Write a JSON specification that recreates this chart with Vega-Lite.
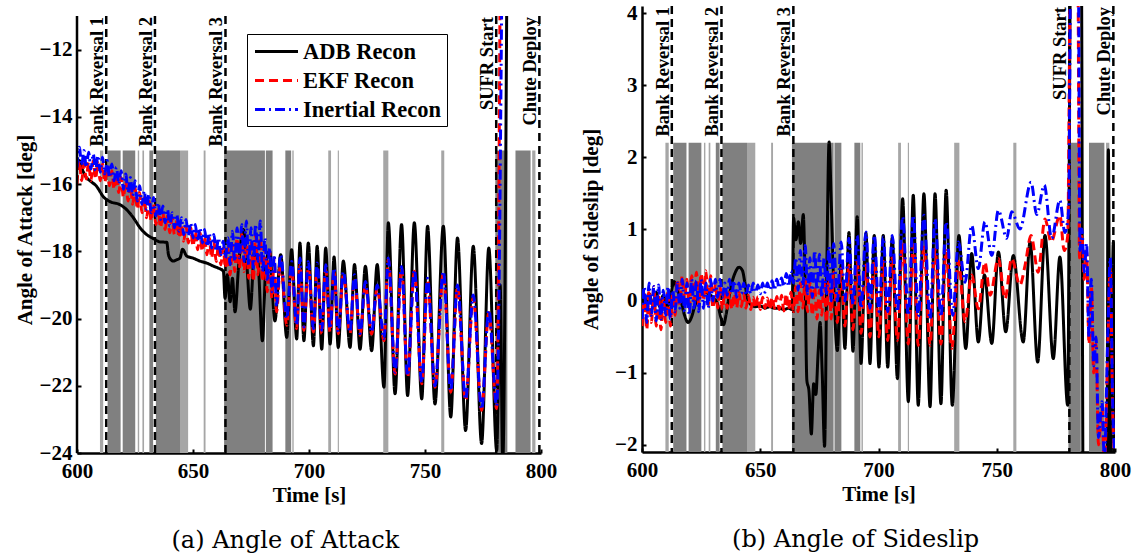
{
"$schema": "https://vega.github.io/schema/vega-lite/v6.json",
"background": "white",
"padding": {"left": 14, "top": 2, "right": 4, "bottom": 4},
"spacing": 23,
"config": {
 "view": {"stroke": null},
 "axis": {"domainColor": "black", "domainWidth": 2.5, "tickColor": "black", "tickWidth": 2, "tickSize": -4, "grid": false, "labelFont": "Liberation Serif", "labelFontWeight": "bold", "labelFontSize": 21, "labelColor": "black", "titleFont": "Liberation Serif", "titleFontWeight": "bold", "titleFontSize": 21, "titleColor": "black"},
 "axisX": {"labelPadding": 11, "titlePadding": 3, "labelFlush": false},
 "axisY": {"labelPadding": 9, "titlePadding": 4},
 "legend": {"orient": "none", "legendX": 170, "legendY": 28, "strokeColor": "black", "fillColor": "white", "padding": 5, "title": null, "labelFont": "Liberation Serif", "labelFontWeight": "bold", "labelFontSize": 22.5, "labelColor": "black", "labelOffset": 14, "symbolType": "M-2,0H2", "symbolSize": 462, "symbolOffset": 12, "symbolStrokeWidth": 3, "rowPadding": 5, "labelLimit": 300}
},
"datasets": {
 "bandsD": [{"s":613.2,"e":618.8},{"s":619.7,"e":625.1},{"s":631.2,"e":632.8},{"s":634.0,"e":644.4},{"s":663.4,"e":681.0},{"s":681.4,"e":684.3},{"s":689.8,"e":692.3},{"s":780.3,"e":785.5},{"s":789.0,"e":795.5}],
 "bandsL": [{"s":609.9,"e":611.3},{"s":626.2,"e":626.8},{"s":628.2,"e":628.9},{"s":644.4,"e":647.9},{"s":654.6,"e":655.4},{"s":692.8,"e":693.4},{"s":708.3,"e":709.5},{"s":712.4,"e":712.9},{"s":732.0,"e":734.2},{"s":757.0,"e":758.3},{"s":796.2,"e":797.6}],
 "events": [{"t":612.6,"n":"Bank Reversal 1"},{"t":633.6,"n":"Bank Reversal 2"},{"t":664.0,"n":"Bank Reversal 3"},{"t":780.7,"n":"SUFR Start"},{"t":799.3,"n":"Chute Deploy"}],
 "aoa": [
{"t":600,"v":-15.45,"s":"A"},{"t":601,"v":-15.3,"s":"A"},{"t":602.5,"v":-15.6,"s":"A"},{"t":604,"v":-15.8,"s":"A"},{"t":605.6,"v":-15.9,"s":"A"},{"t":608.5,"v":-16.07,"s":"A"},{"t":611.3,"v":-16.37,"s":"A"},{"t":614.2,"v":-16.52,"s":"A"},{"t":618.5,"v":-16.61,"s":"A"},{"t":621.4,"v":-16.76,"s":"A"},{"t":624.3,"v":-17.0,"s":"A"},{"t":627.2,"v":-17.3,"s":"A"},{"t":630,"v":-17.5,"s":"A"},{"t":632.9,"v":-17.62,"s":"A"},{"t":635.8,"v":-17.72,"s":"A"},{"t":638.7,"v":-17.73,"s":"A"},{"t":639.4,"v":-18.09,"s":"A"},{"t":640.5,"v":-18.25,"s":"A"},{"t":641.5,"v":-18.29,"s":"A"},{"t":643,"v":-18.25,"s":"A"},{"t":644.4,"v":-18.2,"s":"A"},{"t":645.5,"v":-17.94,"s":"A"},{"t":647.3,"v":-18.14,"s":"A"},{"t":650,"v":-18.2,"s":"A"},{"t":653,"v":-18.29,"s":"A"},{"t":656,"v":-18.35,"s":"A"},{"t":658.8,"v":-18.44,"s":"A"},{"t":661,"v":-18.5,"s":"A"},{"t":663.1,"v":-18.59,"s":"A"},{"t":663.8,"v":-19.4,"s":"A"},{"t":664.8,"v":-18.7,"s":"A"},{"t":666,"v":-19.5,"s":"A"},{"t":667,"v":-18.8,"s":"A"},{"t":668.1,"v":-19.8,"s":"A"},{"t":669.8,"v":-18.3,"s":"A"},{"t":671.7,"v":-17.35,"s":"A"},{"t":673.2,"v":-18.4,"s":"A"},{"t":674.7,"v":-19.72,"s":"A"},{"t":676.5,"v":-18.0,"s":"A"},{"t":678,"v":-18.3,"s":"A"},{"t":679.9,"v":-20.66,"s":"A"},{"t":681.5,"v":-18.3,"s":"A"},{"t":683,"v":-18.0,"s":"A"},{"t":685.3,"v":-20.07,"s":"A"},{"t":687.8,"v":-18.1,"s":"A"},{"t":690.4,"v":-20.56,"s":"A"},{"t":692.5,"v":-17.95,"s":"A"},{"t":694.7,"v":-20.61,"s":"A"},{"t":696.1,"v":-17.75,"s":"A"},{"t":697.8,"v":-20.66,"s":"A"},{"t":699.7,"v":-17.75,"s":"A"},{"t":701.9,"v":-20.81,"s":"A"},{"t":703.5,"v":-17.85,"s":"A"},{"t":705.5,"v":-20.91,"s":"A"},{"t":707.2,"v":-17.9,"s":"A"},{"t":709.1,"v":-20.76,"s":"A"},{"t":710.8,"v":-18.17,"s":"A"},{"t":712.6,"v":-20.86,"s":"A"},{"t":714.8,"v":-18.29,"s":"A"},{"t":717.7,"v":-20.86,"s":"A"},{"t":719.6,"v":-18.39,"s":"A"},{"t":722,"v":-20.91,"s":"A"},{"t":724.3,"v":-18.44,"s":"A"},{"t":727,"v":-20.96,"s":"A"},{"t":729.4,"v":-18.39,"s":"A"},{"t":732.3,"v":-22.04,"s":"A"},{"t":734.2,"v":-17.15,"s":"A"},{"t":737.1,"v":-22.24,"s":"A"},{"t":739.9,"v":-17.2,"s":"A"},{"t":742.5,"v":-22.29,"s":"A"},{"t":745.4,"v":-17.15,"s":"A"},{"t":748.6,"v":-22.39,"s":"A"},{"t":751.1,"v":-17.25,"s":"A"},{"t":754.3,"v":-22.54,"s":"A"},{"t":757.9,"v":-17.25,"s":"A"},{"t":761.1,"v":-22.93,"s":"A"},{"t":764,"v":-17.6,"s":"A"},{"t":767.5,"v":-23.33,"s":"A"},{"t":770.8,"v":-17.85,"s":"A"},{"t":774.4,"v":-23.72,"s":"A"},{"t":777.5,"v":-17.9,"s":"A"},{"t":780.9,"v":-23.92,"s":"A"},{"t":782.4,"v":-19.0,"s":"A"},{"t":783.5,"v":-24.3,"s":"A"},{"t":785.2,"v":-11.0,"s":"A"},
{"t":600,"v":-16.0,"s":"E"},{"t":601,"v":-15.3,"s":"E"},{"t":602,"v":-15.9,"s":"E"},{"t":603,"v":-15.4,"s":"E"},{"t":604,"v":-15.85,"s":"E"},{"t":605,"v":-15.35,"s":"E"},{"t":606,"v":-15.9,"s":"E"},{"t":607,"v":-15.3,"s":"E"},{"t":608,"v":-15.85,"s":"E"},{"t":609,"v":-15.35,"s":"E"},{"t":610,"v":-15.9,"s":"E"},{"t":611,"v":-15.4,"s":"E"},{"t":612,"v":-15.95,"s":"E"},{"t":613,"v":-15.5,"s":"E"},{"t":614,"v":-16.05,"s":"E"},{"t":615,"v":-15.6,"s":"E"},{"t":616,"v":-16.15,"s":"E"},{"t":617,"v":-15.7,"s":"E"},{"t":618,"v":-16.25,"s":"E"},{"t":619,"v":-15.8,"s":"E"},{"t":620,"v":-16.4,"s":"E"},{"t":621,"v":-15.9,"s":"E"},{"t":622,"v":-16.5,"s":"E"},{"t":623,"v":-16.0,"s":"E"},{"t":624,"v":-16.6,"s":"E"},{"t":625,"v":-16.1,"s":"E"},{"t":626,"v":-16.75,"s":"E"},{"t":627,"v":-16.25,"s":"E"},{"t":628,"v":-16.85,"s":"E"},{"t":629,"v":-16.4,"s":"E"},{"t":630,"v":-17.0,"s":"E"},{"t":631,"v":-16.5,"s":"E"},{"t":632,"v":-17.1,"s":"E"},{"t":633,"v":-16.6,"s":"E"},{"t":634,"v":-17.2,"s":"E"},{"t":635,"v":-16.75,"s":"E"},{"t":636,"v":-17.3,"s":"E"},{"t":637,"v":-16.85,"s":"E"},{"t":638,"v":-17.35,"s":"E"},{"t":639,"v":-16.95,"s":"E"},{"t":640,"v":-17.45,"s":"E"},{"t":641,"v":-17.0,"s":"E"},{"t":642,"v":-17.5,"s":"E"},{"t":643,"v":-17.1,"s":"E"},{"t":644,"v":-17.6,"s":"E"},{"t":645,"v":-17.2,"s":"E"},{"t":646,"v":-17.7,"s":"E"},{"t":647,"v":-17.25,"s":"E"},{"t":648,"v":-17.75,"s":"E"},{"t":649,"v":-17.3,"s":"E"},{"t":650,"v":-17.85,"s":"E"},{"t":651,"v":-17.4,"s":"E"},{"t":652,"v":-17.95,"s":"E"},{"t":653,"v":-17.45,"s":"E"},{"t":654,"v":-18.0,"s":"E"},{"t":655,"v":-17.55,"s":"E"},{"t":656,"v":-18.1,"s":"E"},{"t":657,"v":-17.6,"s":"E"},{"t":658,"v":-18.2,"s":"E"},{"t":659,"v":-17.7,"s":"E"},{"t":660,"v":-18.3,"s":"E"},{"t":661,"v":-17.8,"s":"E"},{"t":662,"v":-18.4,"s":"E"},{"t":663,"v":-17.9,"s":"E"},{"t":664,"v":-18.5,"s":"E"},{"t":665,"v":-17.9,"s":"E"},{"t":666,"v":-18.7,"s":"E"},{"t":667,"v":-17.8,"s":"E"},{"t":668,"v":-18.6,"s":"E"},{"t":669,"v":-17.6,"s":"E"},{"t":670,"v":-18.5,"s":"E"},{"t":671,"v":-17.5,"s":"E"},{"t":672,"v":-18.6,"s":"E"},{"t":673,"v":-17.6,"s":"E"},{"t":674,"v":-18.8,"s":"E"},{"t":675,"v":-17.7,"s":"E"},{"t":676,"v":-18.9,"s":"E"},{"t":677,"v":-17.5,"s":"E"},{"t":678,"v":-18.7,"s":"E"},{"t":679,"v":-17.6,"s":"E"},{"t":680,"v":-18.9,"s":"E"},{"t":681,"v":-17.9,"s":"E"},{"t":682,"v":-19.2,"s":"E"},{"t":683,"v":-18.0,"s":"E"},{"t":684,"v":-19.4,"s":"E"},{"t":685,"v":-18.2,"s":"E"},{"t":686,"v":-19.8,"s":"E"},{"t":687.8,"v":-18.3,"s":"E"},{"t":690.4,"v":-20.2,"s":"E"},{"t":692.5,"v":-18.5,"s":"E"},{"t":694.7,"v":-20.3,"s":"E"},{"t":696.1,"v":-18.4,"s":"E"},{"t":697.8,"v":-20.35,"s":"E"},{"t":699.7,"v":-18.5,"s":"E"},{"t":701.9,"v":-20.4,"s":"E"},{"t":703.5,"v":-18.5,"s":"E"},{"t":705.5,"v":-20.45,"s":"E"},{"t":707.2,"v":-18.55,"s":"E"},{"t":709.1,"v":-20.4,"s":"E"},{"t":710.8,"v":-18.6,"s":"E"},{"t":712.6,"v":-20.45,"s":"E"},{"t":714.8,"v":-18.7,"s":"E"},{"t":717.7,"v":-20.45,"s":"E"},{"t":719.6,"v":-18.8,"s":"E"},{"t":722,"v":-20.5,"s":"E"},{"t":724.3,"v":-19.0,"s":"E"},{"t":727,"v":-20.46,"s":"E"},{"t":729.4,"v":-19.08,"s":"E"},{"t":732.3,"v":-20.66,"s":"E"},{"t":734.2,"v":-18.24,"s":"E"},{"t":737.1,"v":-21.65,"s":"E"},{"t":739.9,"v":-18.49,"s":"E"},{"t":742.5,"v":-21.75,"s":"E"},{"t":745.4,"v":-18.59,"s":"E"},{"t":748.6,"v":-21.94,"s":"E"},{"t":751.1,"v":-18.88,"s":"E"},{"t":754.3,"v":-22.04,"s":"E"},{"t":757.9,"v":-18.64,"s":"E"},{"t":761.1,"v":-22.19,"s":"E"},{"t":764,"v":-19.08,"s":"E"},{"t":767.5,"v":-22.44,"s":"E"},{"t":770.8,"v":-19.38,"s":"E"},{"t":774.4,"v":-22.73,"s":"E"},{"t":777.5,"v":-19.82,"s":"E"},{"t":780.9,"v":-22.68,"s":"E"},{"t":782.3,"v":-11.0,"s":"E"},
{"t":600,"v":-15.5,"s":"I"},{"t":601,"v":-14.9,"s":"I"},{"t":602,"v":-15.45,"s":"I"},{"t":603,"v":-15.0,"s":"I"},{"t":604,"v":-15.5,"s":"I"},{"t":605,"v":-15.05,"s":"I"},{"t":606,"v":-15.55,"s":"I"},{"t":607,"v":-15.1,"s":"I"},{"t":608,"v":-15.6,"s":"I"},{"t":609,"v":-15.15,"s":"I"},{"t":610,"v":-15.65,"s":"I"},{"t":611,"v":-15.2,"s":"I"},{"t":612,"v":-15.7,"s":"I"},{"t":613,"v":-15.3,"s":"I"},{"t":614,"v":-15.8,"s":"I"},{"t":615,"v":-15.4,"s":"I"},{"t":616,"v":-15.9,"s":"I"},{"t":617,"v":-15.5,"s":"I"},{"t":618,"v":-16.0,"s":"I"},{"t":619,"v":-15.6,"s":"I"},{"t":620,"v":-16.15,"s":"I"},{"t":621,"v":-15.7,"s":"I"},{"t":622,"v":-16.25,"s":"I"},{"t":623,"v":-15.8,"s":"I"},{"t":624,"v":-16.35,"s":"I"},{"t":625,"v":-15.9,"s":"I"},{"t":626,"v":-16.5,"s":"I"},{"t":627,"v":-16.05,"s":"I"},{"t":628,"v":-16.6,"s":"I"},{"t":629,"v":-16.2,"s":"I"},{"t":630,"v":-16.75,"s":"I"},{"t":631,"v":-16.3,"s":"I"},{"t":632,"v":-16.85,"s":"I"},{"t":633,"v":-16.4,"s":"I"},{"t":634,"v":-16.95,"s":"I"},{"t":635,"v":-16.55,"s":"I"},{"t":636,"v":-17.05,"s":"I"},{"t":637,"v":-16.65,"s":"I"},{"t":638,"v":-17.15,"s":"I"},{"t":639,"v":-16.75,"s":"I"},{"t":640,"v":-17.25,"s":"I"},{"t":641,"v":-16.85,"s":"I"},{"t":642,"v":-17.3,"s":"I"},{"t":643,"v":-16.9,"s":"I"},{"t":644,"v":-17.4,"s":"I"},{"t":645,"v":-17.0,"s":"I"},{"t":646,"v":-17.5,"s":"I"},{"t":647,"v":-17.05,"s":"I"},{"t":648,"v":-17.55,"s":"I"},{"t":649,"v":-17.15,"s":"I"},{"t":650,"v":-17.6,"s":"I"},{"t":651,"v":-17.2,"s":"I"},{"t":652,"v":-17.7,"s":"I"},{"t":653,"v":-17.3,"s":"I"},{"t":654,"v":-17.75,"s":"I"},{"t":655,"v":-17.35,"s":"I"},{"t":656,"v":-17.85,"s":"I"},{"t":657,"v":-17.45,"s":"I"},{"t":658,"v":-17.9,"s":"I"},{"t":659,"v":-17.5,"s":"I"},{"t":660,"v":-18.0,"s":"I"},{"t":661,"v":-17.6,"s":"I"},{"t":662,"v":-18.1,"s":"I"},{"t":663,"v":-17.7,"s":"I"},{"t":664,"v":-18.2,"s":"I"},{"t":665,"v":-17.6,"s":"I"},{"t":666,"v":-18.4,"s":"I"},{"t":667,"v":-17.4,"s":"I"},{"t":668,"v":-18.3,"s":"I"},{"t":669,"v":-17.3,"s":"I"},{"t":670,"v":-18.2,"s":"I"},{"t":671,"v":-17.2,"s":"I"},{"t":672,"v":-18.3,"s":"I"},{"t":673,"v":-17.1,"s":"I"},{"t":674,"v":-18.4,"s":"I"},{"t":675,"v":-17.3,"s":"I"},{"t":676,"v":-18.5,"s":"I"},{"t":677,"v":-17.2,"s":"I"},{"t":678,"v":-18.3,"s":"I"},{"t":679,"v":-17.1,"s":"I"},{"t":680,"v":-18.6,"s":"I"},{"t":681,"v":-17.6,"s":"I"},{"t":682,"v":-18.9,"s":"I"},{"t":683,"v":-17.9,"s":"I"},{"t":684,"v":-19.2,"s":"I"},{"t":685,"v":-18.1,"s":"I"},{"t":686,"v":-19.6,"s":"I"},{"t":687.8,"v":-18.1,"s":"I"},{"t":690.4,"v":-20.0,"s":"I"},{"t":692.5,"v":-18.3,"s":"I"},{"t":694.7,"v":-20.2,"s":"I"},{"t":696.1,"v":-18.2,"s":"I"},{"t":697.8,"v":-20.25,"s":"I"},{"t":699.7,"v":-18.3,"s":"I"},{"t":701.9,"v":-20.3,"s":"I"},{"t":703.5,"v":-18.35,"s":"I"},{"t":705.5,"v":-20.35,"s":"I"},{"t":707.2,"v":-18.4,"s":"I"},{"t":709.1,"v":-20.3,"s":"I"},{"t":710.8,"v":-18.5,"s":"I"},{"t":712.6,"v":-20.4,"s":"I"},{"t":714.8,"v":-18.6,"s":"I"},{"t":717.7,"v":-20.4,"s":"I"},{"t":719.6,"v":-18.7,"s":"I"},{"t":722,"v":-20.45,"s":"I"},{"t":724.3,"v":-18.9,"s":"I"},{"t":727,"v":-20.4,"s":"I"},{"t":729.4,"v":-19.0,"s":"I"},{"t":732.3,"v":-20.6,"s":"I"},{"t":734.2,"v":-18.2,"s":"I"},{"t":737.1,"v":-21.6,"s":"I"},{"t":739.9,"v":-18.45,"s":"I"},{"t":742.5,"v":-21.7,"s":"I"},{"t":745.4,"v":-18.55,"s":"I"},{"t":748.6,"v":-21.9,"s":"I"},{"t":751.1,"v":-18.8,"s":"I"},{"t":754.3,"v":-22.0,"s":"I"},{"t":757.9,"v":-18.6,"s":"I"},{"t":761.1,"v":-22.15,"s":"I"},{"t":764,"v":-19.0,"s":"I"},{"t":767.5,"v":-22.4,"s":"I"},{"t":770.8,"v":-19.3,"s":"I"},{"t":774.4,"v":-22.7,"s":"I"},{"t":777.5,"v":-19.75,"s":"I"},{"t":780.9,"v":-22.6,"s":"I"},{"t":783,"v":-11.0,"s":"I"}
 ],
 "beta": [
{"t":600,"v":0.05,"s":"A"},{"t":601.5,"v":-0.1,"s":"A"},{"t":603,"v":0.1,"s":"A"},{"t":604.5,"v":-0.05,"s":"A"},{"t":606,"v":0.12,"s":"A"},{"t":607.5,"v":-0.08,"s":"A"},{"t":609,"v":0.08,"s":"A"},{"t":610.5,"v":-0.1,"s":"A"},{"t":612,"v":0.05,"s":"A"},{"t":613.5,"v":0.27,"s":"A"},{"t":615,"v":0.15,"s":"A"},{"t":616.5,"v":0.0,"s":"A"},{"t":618,"v":-0.2,"s":"A"},{"t":619.5,"v":-0.3,"s":"A"},{"t":621,"v":-0.22,"s":"A"},{"t":622.5,"v":-0.05,"s":"A"},{"t":624,"v":0.05,"s":"A"},{"t":626,"v":0.12,"s":"A"},{"t":628,"v":0.1,"s":"A"},{"t":630,"v":0.05,"s":"A"},{"t":632,"v":-0.05,"s":"A"},{"t":633.5,"v":-0.25,"s":"A"},{"t":634.5,"v":-0.33,"s":"A"},{"t":635.5,"v":-0.2,"s":"A"},{"t":636.5,"v":0.0,"s":"A"},{"t":638,"v":0.25,"s":"A"},{"t":639.5,"v":0.4,"s":"A"},{"t":641,"v":0.47,"s":"A"},{"t":642.5,"v":0.42,"s":"A"},{"t":643.5,"v":0.25,"s":"A"},{"t":644.5,"v":0.05,"s":"A"},{"t":646,"v":-0.05,"s":"A"},{"t":648,"v":-0.08,"s":"A"},{"t":650,"v":-0.07,"s":"A"},{"t":652,"v":-0.1,"s":"A"},{"t":654,"v":-0.08,"s":"A"},{"t":656,"v":-0.1,"s":"A"},{"t":658,"v":-0.1,"s":"A"},{"t":660,"v":-0.12,"s":"A"},{"t":662,"v":-0.1,"s":"A"},{"t":663.5,"v":-0.12,"s":"A"},{"t":664.1,"v":1.15,"s":"A"},{"t":665.1,"v":0.85,"s":"A"},{"t":666.1,"v":1.1,"s":"A"},{"t":667.1,"v":0.8,"s":"A"},{"t":668.2,"v":1.2,"s":"A"},{"t":669,"v":0.2,"s":"A"},{"t":669.7,"v":-1.1,"s":"A"},{"t":670.6,"v":-1.25,"s":"A"},{"t":671.6,"v":-1.85,"s":"A"},{"t":672.6,"v":-1.15,"s":"A"},{"t":673.5,"v":-1.3,"s":"A"},{"t":674.5,"v":-0.7,"s":"A"},{"t":675.3,"v":-0.3,"s":"A"},{"t":676.2,"v":-1.0,"s":"A"},{"t":677.2,"v":-2.02,"s":"A"},{"t":678.2,"v":0.6,"s":"A"},{"t":679.1,"v":2.21,"s":"A"},{"t":680,"v":1.4,"s":"A"},{"t":681,"v":0.3,"s":"A"},{"t":682.6,"v":-0.69,"s":"A"},{"t":684.2,"v":0.5,"s":"A"},{"t":685.8,"v":-0.66,"s":"A"},{"t":687.5,"v":0.95,"s":"A"},{"t":689.2,"v":-0.7,"s":"A"},{"t":691.0,"v":1.17,"s":"A"},{"t":692.6,"v":-0.87,"s":"A"},{"t":694.7,"v":0.94,"s":"A"},{"t":696.4,"v":-0.87,"s":"A"},{"t":698.2,"v":0.91,"s":"A"},{"t":700.2,"v":-0.92,"s":"A"},{"t":702,"v":0.91,"s":"A"},{"t":703.9,"v":-0.92,"s":"A"},{"t":705.8,"v":0.88,"s":"A"},{"t":708,"v":-1.08,"s":"A"},{"t":710.2,"v":1.42,"s":"A"},{"t":712.6,"v":-1.4,"s":"A"},{"t":714.7,"v":1.47,"s":"A"},{"t":716.8,"v":-1.45,"s":"A"},{"t":719.2,"v":1.49,"s":"A"},{"t":721.8,"v":-1.47,"s":"A"},{"t":723.9,"v":1.49,"s":"A"},{"t":726.4,"v":-1.43,"s":"A"},{"t":728.6,"v":1.54,"s":"A"},{"t":731.2,"v":-1.45,"s":"A"},{"t":734.0,"v":0.91,"s":"A"},{"t":736.9,"v":-0.66,"s":"A"},{"t":739.4,"v":0.66,"s":"A"},{"t":742.2,"v":-0.57,"s":"A"},{"t":744.8,"v":0.36,"s":"A"},{"t":747.9,"v":-0.59,"s":"A"},{"t":750.7,"v":0.68,"s":"A"},{"t":753.8,"v":-0.43,"s":"A"},{"t":757,"v":0.63,"s":"A"},{"t":761.2,"v":-0.57,"s":"A"},{"t":764.1,"v":0.82,"s":"A"},{"t":767.3,"v":-0.85,"s":"A"},{"t":770.4,"v":0.91,"s":"A"},{"t":773.9,"v":-0.8,"s":"A"},{"t":776.7,"v":0.61,"s":"A"},{"t":780,"v":-1.45,"s":"A"},{"t":781.2,"v":4.5,"s":"A"},{"t":785.8,"v":4.5,"s":"A"},{"t":786.5,"v":-2.5,"s":"A"},{"t":796.5,"v":-2.5,"s":"A"},{"t":797.2,"v":2.1,"s":"A"},{"t":798,"v":-2.5,"s":"A"},{"t":799.3,"v":0.82,"s":"A"},{"t":800,"v":-2.3,"s":"A"},
{"t":600,"v":-0.35,"s":"E"},{"t":601,"v":0.1,"s":"E"},{"t":602,"v":-0.4,"s":"E"},{"t":603,"v":0.15,"s":"E"},{"t":604,"v":-0.3,"s":"E"},{"t":605,"v":0.2,"s":"E"},{"t":606,"v":-0.35,"s":"E"},{"t":607,"v":0.1,"s":"E"},{"t":608,"v":-0.4,"s":"E"},{"t":609,"v":0.05,"s":"E"},{"t":610,"v":-0.3,"s":"E"},{"t":611,"v":0.15,"s":"E"},{"t":612,"v":-0.35,"s":"E"},{"t":613,"v":0.1,"s":"E"},{"t":614,"v":-0.2,"s":"E"},{"t":615,"v":0.3,"s":"E"},{"t":616,"v":-0.05,"s":"E"},{"t":617,"v":0.35,"s":"E"},{"t":618,"v":0.0,"s":"E"},{"t":619,"v":0.3,"s":"E"},{"t":620,"v":-0.1,"s":"E"},{"t":621,"v":0.35,"s":"E"},{"t":622,"v":0.0,"s":"E"},{"t":623,"v":0.4,"s":"E"},{"t":624,"v":-0.05,"s":"E"},{"t":625,"v":0.38,"s":"E"},{"t":626,"v":0.0,"s":"E"},{"t":627,"v":0.42,"s":"E"},{"t":628,"v":-0.05,"s":"E"},{"t":629,"v":0.35,"s":"E"},{"t":630,"v":-0.1,"s":"E"},{"t":631,"v":0.25,"s":"E"},{"t":632,"v":-0.1,"s":"E"},{"t":633,"v":0.2,"s":"E"},{"t":634,"v":-0.12,"s":"E"},{"t":635,"v":0.15,"s":"E"},{"t":636,"v":-0.1,"s":"E"},{"t":637,"v":0.12,"s":"E"},{"t":638,"v":-0.12,"s":"E"},{"t":639,"v":0.1,"s":"E"},{"t":640,"v":-0.1,"s":"E"},{"t":641,"v":0.12,"s":"E"},{"t":642,"v":-0.08,"s":"E"},{"t":643,"v":0.1,"s":"E"},{"t":644,"v":-0.1,"s":"E"},{"t":645,"v":0.08,"s":"E"},{"t":646,"v":-0.12,"s":"E"},{"t":647,"v":0.05,"s":"E"},{"t":648,"v":-0.1,"s":"E"},{"t":649,"v":0.06,"s":"E"},{"t":650,"v":-0.12,"s":"E"},{"t":651,"v":0.05,"s":"E"},{"t":652,"v":-0.1,"s":"E"},{"t":653,"v":0.04,"s":"E"},{"t":654,"v":-0.12,"s":"E"},{"t":655,"v":0.05,"s":"E"},{"t":656,"v":-0.1,"s":"E"},{"t":657,"v":0.06,"s":"E"},{"t":658,"v":-0.12,"s":"E"},{"t":659,"v":0.08,"s":"E"},{"t":660,"v":-0.14,"s":"E"},{"t":661,"v":0.1,"s":"E"},{"t":662,"v":-0.12,"s":"E"},{"t":663,"v":0.12,"s":"E"},{"t":664,"v":-0.15,"s":"E"},{"t":665,"v":0.2,"s":"E"},{"t":666,"v":-0.15,"s":"E"},{"t":667,"v":0.25,"s":"E"},{"t":668,"v":-0.1,"s":"E"},{"t":669,"v":0.3,"s":"E"},{"t":670,"v":-0.15,"s":"E"},{"t":671,"v":0.25,"s":"E"},{"t":672,"v":-0.2,"s":"E"},{"t":673,"v":0.2,"s":"E"},{"t":674,"v":-0.25,"s":"E"},{"t":675,"v":0.15,"s":"E"},{"t":676,"v":-0.2,"s":"E"},{"t":677,"v":0.3,"s":"E"},{"t":678,"v":-0.3,"s":"E"},{"t":679,"v":0.35,"s":"E"},{"t":680,"v":-0.25,"s":"E"},{"t":681,"v":0.4,"s":"E"},{"t":682.6,"v":-0.3,"s":"E"},{"t":684.2,"v":0.45,"s":"E"},{"t":685.8,"v":-0.35,"s":"E"},{"t":687.5,"v":0.5,"s":"E"},{"t":689.2,"v":-0.4,"s":"E"},{"t":691.0,"v":0.55,"s":"E"},{"t":692.6,"v":-0.45,"s":"E"},{"t":694.7,"v":0.5,"s":"E"},{"t":696.4,"v":-0.5,"s":"E"},{"t":698.2,"v":0.55,"s":"E"},{"t":700.2,"v":-0.5,"s":"E"},{"t":702,"v":0.55,"s":"E"},{"t":703.9,"v":-0.55,"s":"E"},{"t":705.8,"v":0.6,"s":"E"},{"t":708,"v":-0.55,"s":"E"},{"t":710.2,"v":0.8,"s":"E"},{"t":712.6,"v":-0.6,"s":"E"},{"t":714.7,"v":0.78,"s":"E"},{"t":716.8,"v":-0.62,"s":"E"},{"t":719.2,"v":0.75,"s":"E"},{"t":721.8,"v":-0.62,"s":"E"},{"t":723.9,"v":0.72,"s":"E"},{"t":726.4,"v":-0.6,"s":"E"},{"t":728.6,"v":0.7,"s":"E"},{"t":731.0,"v":-0.66,"s":"E"},{"t":733.8,"v":0.55,"s":"E"},{"t":736.6,"v":-0.29,"s":"E"},{"t":739.4,"v":0.36,"s":"E"},{"t":742.2,"v":-0.11,"s":"E"},{"t":745,"v":0.54,"s":"E"},{"t":747.2,"v":0.08,"s":"E"},{"t":750.7,"v":0.59,"s":"E"},{"t":753.5,"v":0.03,"s":"E"},{"t":756.3,"v":0.59,"s":"E"},{"t":759.8,"v":0.22,"s":"E"},{"t":762,"v":0.5,"s":"E"},{"t":764.5,"v":0.91,"s":"E"},{"t":767.5,"v":0.4,"s":"E"},{"t":770.4,"v":1.14,"s":"E"},{"t":773,"v":0.82,"s":"E"},{"t":776.7,"v":1.19,"s":"E"},{"t":778.5,"v":0.7,"s":"E"},{"t":780,"v":0.9,"s":"E"},{"t":781.2,"v":4.5,"s":"E"},{"t":784.3,"v":4.5,"s":"E"},{"t":785,"v":0.6,"s":"E"},{"t":786,"v":0.9,"s":"E"},{"t":787,"v":0.3,"s":"E"},{"t":788,"v":0.7,"s":"E"},{"t":789,"v":-0.6,"s":"E"},{"t":790,"v":0.2,"s":"E"},{"t":791,"v":-1.0,"s":"E"},{"t":792,"v":-0.6,"s":"E"},{"t":793,"v":-2.0,"s":"E"},{"t":794.5,"v":-1.5,"s":"E"},{"t":795.5,"v":-2.3,"s":"E"},{"t":797,"v":-0.6,"s":"E"},{"t":798,"v":0.5,"s":"E"},{"t":799,"v":-1.5,"s":"E"},{"t":800,"v":-2.3,"s":"E"},
{"t":600,"v":-0.25,"s":"I"},{"t":601,"v":0.2,"s":"I"},{"t":602,"v":-0.3,"s":"I"},{"t":603,"v":0.25,"s":"I"},{"t":604,"v":-0.2,"s":"I"},{"t":605,"v":0.2,"s":"I"},{"t":606,"v":-0.28,"s":"I"},{"t":607,"v":0.22,"s":"I"},{"t":608,"v":-0.25,"s":"I"},{"t":609,"v":0.15,"s":"I"},{"t":610,"v":-0.2,"s":"I"},{"t":611,"v":0.2,"s":"I"},{"t":612,"v":-0.25,"s":"I"},{"t":613,"v":0.15,"s":"I"},{"t":614,"v":-0.15,"s":"I"},{"t":615,"v":0.25,"s":"I"},{"t":616,"v":-0.1,"s":"I"},{"t":617,"v":0.3,"s":"I"},{"t":618,"v":-0.15,"s":"I"},{"t":619,"v":0.25,"s":"I"},{"t":620,"v":-0.2,"s":"I"},{"t":621,"v":0.3,"s":"I"},{"t":622,"v":-0.1,"s":"I"},{"t":623,"v":0.28,"s":"I"},{"t":624,"v":-0.15,"s":"I"},{"t":625,"v":0.3,"s":"I"},{"t":626,"v":-0.1,"s":"I"},{"t":627,"v":0.25,"s":"I"},{"t":628,"v":-0.1,"s":"I"},{"t":629,"v":0.3,"s":"I"},{"t":630,"v":0.0,"s":"I"},{"t":631,"v":0.3,"s":"I"},{"t":632,"v":0.05,"s":"I"},{"t":633,"v":0.3,"s":"I"},{"t":634,"v":0.05,"s":"I"},{"t":635,"v":0.25,"s":"I"},{"t":636,"v":0.08,"s":"I"},{"t":637,"v":0.3,"s":"I"},{"t":638,"v":0.1,"s":"I"},{"t":639,"v":0.28,"s":"I"},{"t":640,"v":0.05,"s":"I"},{"t":641,"v":0.25,"s":"I"},{"t":642,"v":0.1,"s":"I"},{"t":643,"v":0.25,"s":"I"},{"t":644,"v":0.08,"s":"I"},{"t":645,"v":0.22,"s":"I"},{"t":646,"v":0.1,"s":"I"},{"t":647,"v":0.25,"s":"I"},{"t":648,"v":0.12,"s":"I"},{"t":649,"v":0.22,"s":"I"},{"t":650,"v":0.1,"s":"I"},{"t":651,"v":0.25,"s":"I"},{"t":652,"v":0.12,"s":"I"},{"t":653,"v":0.25,"s":"I"},{"t":654,"v":0.15,"s":"I"},{"t":655,"v":0.28,"s":"I"},{"t":656,"v":0.15,"s":"I"},{"t":657,"v":0.3,"s":"I"},{"t":658,"v":0.18,"s":"I"},{"t":659,"v":0.32,"s":"I"},{"t":660,"v":0.2,"s":"I"},{"t":661,"v":0.38,"s":"I"},{"t":662,"v":0.2,"s":"I"},{"t":663,"v":0.42,"s":"I"},{"t":664,"v":0.25,"s":"I"},{"t":665,"v":0.6,"s":"I"},{"t":666,"v":0.15,"s":"I"},{"t":667,"v":0.7,"s":"I"},{"t":668,"v":0.2,"s":"I"},{"t":669,"v":0.77,"s":"I"},{"t":670,"v":0.1,"s":"I"},{"t":671,"v":0.6,"s":"I"},{"t":672,"v":0.05,"s":"I"},{"t":673,"v":0.7,"s":"I"},{"t":674,"v":0.15,"s":"I"},{"t":675,"v":0.65,"s":"I"},{"t":676,"v":0.05,"s":"I"},{"t":677,"v":0.6,"s":"I"},{"t":678,"v":0.1,"s":"I"},{"t":679,"v":0.75,"s":"I"},{"t":680,"v":0.0,"s":"I"},{"t":681,"v":0.8,"s":"I"},{"t":682.6,"v":0.0,"s":"I"},{"t":684.2,"v":0.82,"s":"I"},{"t":685.8,"v":0.0,"s":"I"},{"t":687.5,"v":0.87,"s":"I"},{"t":689.2,"v":-0.05,"s":"I"},{"t":691.0,"v":0.91,"s":"I"},{"t":692.6,"v":-0.1,"s":"I"},{"t":694.7,"v":0.96,"s":"I"},{"t":696.4,"v":-0.1,"s":"I"},{"t":698.2,"v":0.91,"s":"I"},{"t":700.2,"v":-0.15,"s":"I"},{"t":702,"v":0.89,"s":"I"},{"t":703.9,"v":-0.15,"s":"I"},{"t":705.8,"v":0.91,"s":"I"},{"t":708,"v":-0.15,"s":"I"},{"t":710.2,"v":1.17,"s":"I"},{"t":712.6,"v":-0.2,"s":"I"},{"t":714.7,"v":1.19,"s":"I"},{"t":716.8,"v":-0.22,"s":"I"},{"t":719.2,"v":1.19,"s":"I"},{"t":721.8,"v":-0.25,"s":"I"},{"t":723.9,"v":1.14,"s":"I"},{"t":726.4,"v":-0.22,"s":"I"},{"t":728.6,"v":1.1,"s":"I"},{"t":731.4,"v":-0.2,"s":"I"},{"t":733.8,"v":0.82,"s":"I"},{"t":736.6,"v":0.26,"s":"I"},{"t":739.4,"v":1.05,"s":"I"},{"t":742.2,"v":0.45,"s":"I"},{"t":745,"v":1.1,"s":"I"},{"t":747.9,"v":0.63,"s":"I"},{"t":750.7,"v":1.26,"s":"I"},{"t":754.2,"v":0.87,"s":"I"},{"t":756.3,"v":1.24,"s":"I"},{"t":759.8,"v":1.0,"s":"I"},{"t":764.5,"v":1.65,"s":"I"},{"t":766.9,"v":1.2,"s":"I"},{"t":770.1,"v":1.61,"s":"I"},{"t":773.2,"v":0.87,"s":"I"},{"t":776.7,"v":1.4,"s":"I"},{"t":778.8,"v":0.95,"s":"I"},{"t":780.5,"v":1.3,"s":"I"},{"t":781.2,"v":4.5,"s":"I"},{"t":784.5,"v":4.5,"s":"I"},{"t":785.2,"v":0.7,"s":"I"},{"t":786,"v":1.0,"s":"I"},{"t":787,"v":0.4,"s":"I"},{"t":788,"v":0.8,"s":"I"},{"t":789,"v":-0.5,"s":"I"},{"t":790,"v":0.3,"s":"I"},{"t":791,"v":-0.9,"s":"I"},{"t":792,"v":-0.5,"s":"I"},{"t":793,"v":-1.9,"s":"I"},{"t":794.5,"v":-1.4,"s":"I"},{"t":795.5,"v":-2.2,"s":"I"},{"t":797,"v":-0.4,"s":"I"},{"t":798,"v":0.6,"s":"I"},{"t":799,"v":-1.4,"s":"I"},{"t":800,"v":-2.2,"s":"I"}
 ]
},
"resolve": {"scale": {"color": "independent", "strokeDash": "independent"}},
"hconcat": [
 {
  "width": 464, "height": 447,
  "title": {"text": "(a) Angle of Attack", "orient": "bottom", "anchor": "middle", "frame": "bounds", "font": "DejaVu Serif", "fontSize": 24, "fontWeight": "normal", "color": "black", "offset": 24},
  "layer": [
   {"data": {"name": "bandsD"}, "mark": {"type": "rect", "color": "#808080"},
    "encoding": {"x": {"field": "s", "type": "quantitative", "scale": {"domain": [600, 800], "nice": false}, "axis": {"values": [600, 650, 700, 750, 800]}, "title": "Time [s]"}, "x2": {"field": "e"},
     "y": {"datum": -24, "type": "quantitative", "scale": {"domain": [-24, -10.7], "nice": false}, "axis": {"values": [-24, -22, -20, -18, -16, -14, -12], "domain": false}, "title": "Angle of Attack [deg]"}, "y2": {"datum": -15}}},
   {"data": {"name": "bandsL"}, "mark": {"type": "rect", "color": "#a6a6a6"},
    "encoding": {"x": {"field": "s", "type": "quantitative", "scale": {"domain": [600, 800], "nice": false}, "title": "Time [s]"}, "x2": {"field": "e"},
     "y": {"datum": -24, "type": "quantitative", "scale": {"domain": [-24, -10.7], "nice": false}, "title": "Angle of Attack [deg]"}, "y2": {"datum": -15}}},
   {"data": {"name": "events"}, "mark": {"type": "rule", "color": "black", "strokeWidth": 2.5, "strokeDash": [8, 5]},
    "encoding": {"x": {"field": "t", "type": "quantitative", "scale": {"domain": [600, 800], "nice": false}, "title": "Time [s]"},
     "y": {"datum": -24, "type": "quantitative", "scale": {"domain": [-24, -10.7], "nice": false}, "title": "Angle of Attack [deg]"}, "y2": {"datum": -11}}},
   {"data": {"name": "aoa"}, "mark": {"type": "line", "strokeWidth": 3, "clip": true, "interpolate": "monotone"},
    "encoding": {"x": {"field": "t", "type": "quantitative", "scale": {"domain": [600, 800], "nice": false}, "title": "Time [s]"},
     "y": {"field": "v", "type": "quantitative", "scale": {"domain": [-24, -10.7], "nice": false}, "title": "Angle of Attack [deg]"},
     "color": {"field": "s", "type": "nominal", "scale": {"domain": ["A", "E", "I"], "range": ["#000000", "#ff0000", "#0000ff"]}, "legend": {"labelExpr": "datum.label == 'A' ? 'ADB Recon' : datum.label == 'E' ? 'EKF Recon' : 'Inertial Recon'"}},
     "strokeDash": {"field": "s", "type": "nominal", "scale": {"domain": ["A", "E", "I"], "range": [[1, 0], [9, 5], [10, 4, 2, 4]]}, "legend": {"labelExpr": "datum.label == 'A' ? 'ADB Recon' : datum.label == 'E' ? 'EKF Recon' : 'Inertial Recon'"}}}},
   {"data": {"values": [{}]}, "mark": {"type": "rule", "color": "black", "strokeWidth": 2.5},
    "encoding": {"x": {"datum": 600, "type": "quantitative", "scale": {"domain": [600, 800], "nice": false}, "title": "Time [s]"},
     "y": {"datum": -24, "type": "quantitative", "scale": {"domain": [-24, -10.7], "nice": false}, "title": "Angle of Attack [deg]"}, "y2": {"datum": -11}}},
   {"data": {"name": "events"}, "mark": {"type": "text", "angle": 270, "align": "right", "baseline": "alphabetic", "dx": -1, "dy": -3, "font": "Liberation Serif", "fontWeight": "bold", "fontSize": 18.5, "color": "black"},
    "encoding": {"x": {"field": "t", "type": "quantitative", "scale": {"domain": [600, 800], "nice": false}, "title": "Time [s]"},
     "y": {"datum": -11, "type": "quantitative", "scale": {"domain": [-24, -10.7], "nice": false}, "title": "Angle of Attack [deg]"},
     "text": {"field": "n"}}}
  ]
 },
 {
  "width": 473, "height": 446,
  "title": {"text": "(b) Angle of Sideslip", "orient": "bottom", "anchor": "middle", "frame": "bounds", "font": "DejaVu Serif", "fontSize": 24, "fontWeight": "normal", "color": "black", "offset": 24},
  "layer": [
   {"data": {"name": "bandsD"}, "mark": {"type": "rect", "color": "#808080"},
    "encoding": {"x": {"field": "s", "type": "quantitative", "scale": {"domain": [600, 800], "nice": false}, "axis": {"values": [600, 650, 700, 750, 800]}, "title": "Time [s]"}, "x2": {"field": "e"},
     "y": {"datum": -2.1, "type": "quantitative", "scale": {"domain": [-2.1, 4.1], "nice": false}, "axis": {"values": [-2, -1, 0, 1, 2, 3, 4], "format": "d", "titlePadding": 13}, "title": "Angle of Sideslip [deg]"}, "y2": {"datum": 2.2}}},
   {"data": {"name": "bandsL"}, "mark": {"type": "rect", "color": "#a6a6a6"},
    "encoding": {"x": {"field": "s", "type": "quantitative", "scale": {"domain": [600, 800], "nice": false}, "title": "Time [s]"}, "x2": {"field": "e"},
     "y": {"datum": -2.1, "type": "quantitative", "scale": {"domain": [-2.1, 4.1], "nice": false}, "title": "Angle of Sideslip [deg]"}, "y2": {"datum": 2.2}}},
   {"data": {"name": "events"}, "mark": {"type": "rule", "color": "black", "strokeWidth": 2.5, "strokeDash": [8, 5]},
    "encoding": {"x": {"field": "t", "type": "quantitative", "scale": {"domain": [600, 800], "nice": false}, "title": "Time [s]"}}},
   {"data": {"name": "beta"}, "mark": {"type": "line", "strokeWidth": 3, "clip": true, "interpolate": "monotone"},
    "encoding": {"x": {"field": "t", "type": "quantitative", "scale": {"domain": [600, 800], "nice": false}, "title": "Time [s]"},
     "y": {"field": "v", "type": "quantitative", "scale": {"domain": [-2.1, 4.1], "nice": false}, "title": "Angle of Sideslip [deg]"},
     "color": {"field": "s", "type": "nominal", "scale": {"domain": ["A", "E", "I"], "range": ["#000000", "#ff0000", "#0000ff"]}, "legend": null},
     "strokeDash": {"field": "s", "type": "nominal", "scale": {"domain": ["A", "E", "I"], "range": [[1, 0], [9, 5], [10, 4, 2, 4]]}, "legend": null}}},
   {"data": {"name": "events"}, "mark": {"type": "text", "angle": 270, "align": "right", "baseline": "alphabetic", "dx": -1, "dy": -3, "font": "Liberation Serif", "fontWeight": "bold", "fontSize": 18.5, "color": "black"},
    "encoding": {"x": {"field": "t", "type": "quantitative", "scale": {"domain": [600, 800], "nice": false}, "title": "Time [s]"},
     "y": {"datum": 4.1, "type": "quantitative", "scale": {"domain": [-2.1, 4.1], "nice": false}, "title": "Angle of Sideslip [deg]"},
     "text": {"field": "n"}}}
  ]
 }
]
}
